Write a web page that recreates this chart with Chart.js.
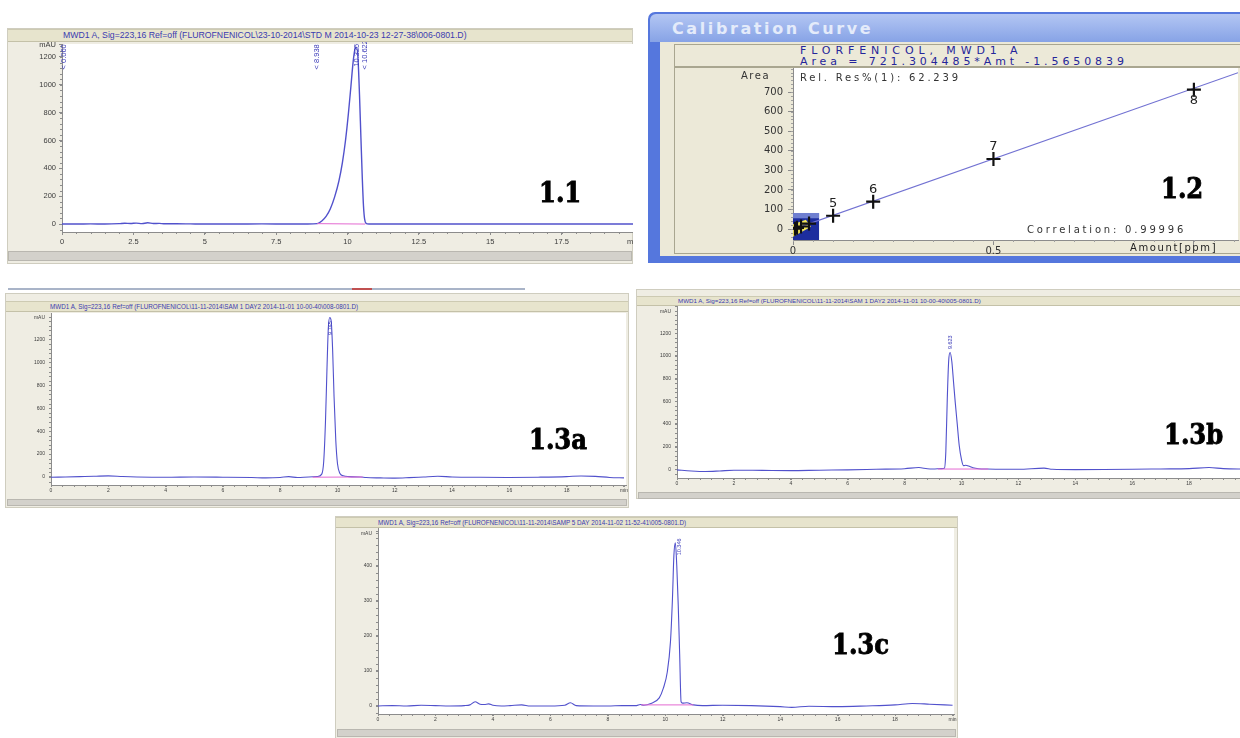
<!DOCTYPE html>
<html>
<head>
<meta charset="utf-8">
<script src="https://cdn.jsdelivr.net/npm/chart.js@4.4.1/dist/chart.umd.min.js"></script>
<style>
body { margin: 0; background: #fff; }
#page { position: relative; width: 1240px; height: 738px; overflow: hidden; font-family: "Liberation Sans", Arial, sans-serif; }
.panel { position: absolute; background: #efede3; border: 1px solid #cfcdbf; box-sizing: border-box; }
.strip { position: absolute; background: #e7e4cd; border-top: 1px solid #cdcab2; border-bottom: 1px solid #c4c1a8; box-sizing: border-box; color: #3b3bb0; white-space: nowrap; overflow: hidden; }
.scroll { position: absolute; background: #d3d1cb; border: 1px solid #b9b7b0; box-sizing: border-box; }
.fig { position: absolute; font-family: "DejaVu Serif Condensed", "DejaVu Serif", serif; font-weight: 900; color: #000; letter-spacing: 0; line-height: 1; font-size: 27px; -webkit-text-stroke: 0.8px #000; }
.wtxt { position: absolute; font-family: "DejaVu Sans", sans-serif; white-space: nowrap; line-height: 1; }
canvas { position: absolute; }
</style>
</head>
<body>
<div id="page">

  <!-- 1.1 -->
  <div class="panel" style="left:7px;top:28px;width:626px;height:236px;"></div>
  <div class="strip" style="left:8px;top:29px;width:624px;height:13px;font-size:8.7px;line-height:11px;padding-left:55px;">MWD1 A, Sig=223,16 Ref=off (FLUROFNENICOL\23-10-2014\STD M 2014-10-23 12-27-38\006-0801.D)</div>
  <canvas id="c11" width="626" height="208" style="left:7px;top:42px;"></canvas>
  <div class="scroll" style="left:8px;top:251px;width:624px;height:10px;"></div>
  <div class="fig" style="left:539px;top:179px;">1.1</div>

  <!-- 1.2 -->
  <div style="position:absolute;left:648px;top:12px;width:600px;height:251px;background:#5577dd;border-radius:7px 0 0 0;"></div>
  <div style="position:absolute;left:650px;top:14px;width:600px;height:28px;background:linear-gradient(#b3c6f3,#87a3e6);border-radius:6px 0 0 0;"></div>
  <div class="wtxt" style="left:672px;top:21px;font-size:16px;font-weight:bold;color:#e4ebfa;letter-spacing:2.6px;">Calibration Curve</div>
  <div style="position:absolute;left:660px;top:42px;width:580px;height:214px;background:#ece9d8;"></div>
  <div style="position:absolute;left:674px;top:44px;width:570px;height:23px;border:1px solid #a9a690;box-sizing:border-box;"></div>
  <div style="position:absolute;left:674px;top:67px;width:570px;height:187px;border:1px solid #a9a690;box-sizing:border-box;"></div>
  <div class="wtxt" style="left:800px;top:45px;font-size:11px;color:#25259a;letter-spacing:4.9px;">FLORFENICOL, MWD1 A</div>
  <div class="wtxt" style="left:800px;top:56px;font-size:11px;color:#25259a;letter-spacing:3.9px;">Area = 721.304485*Amt -1.5650839</div>
  <canvas id="c12" width="565" height="189" style="left:675px;top:68px;"></canvas>
  <div class="wtxt" style="left:741px;top:71px;font-size:10px;color:#333;letter-spacing:1.5px;">Area</div>
  <div class="wtxt" style="left:800px;top:73px;font-size:10px;color:#333;letter-spacing:2.8px;">Rel. Res%(1): 62.239</div>
  <div class="wtxt" style="left:1027px;top:225px;font-size:10px;color:#333;letter-spacing:2.8px;">Correlation: 0.99996</div>
  <div class="wtxt" style="left:1130px;top:243px;font-size:10px;color:#222;letter-spacing:1.6px;">Amount[ppm]</div>
  <div class="fig" style="left:1161px;top:175px;">1.2</div>

  <!-- 1.3a -->
  <div style="position:absolute;left:8px;top:288px;width:517px;height:2px;background:#a9b4c8;"></div>
  <div style="position:absolute;left:352px;top:288px;width:20px;height:2px;background:#c05050;"></div>
  <div class="panel" style="left:5px;top:293px;width:624px;height:215px;"></div>
  <div class="strip" style="left:6px;top:301px;width:622px;height:11px;font-size:6.3px;line-height:9px;padding-left:44px;">MWD1 A, Sig=223,16 Ref=off (FLUROFNENICOL\11-11-2014\SAM 1 DAY2 2014-11-01 10-00-40\008-0801.D)</div>
  <canvas id="c13a" width="624" height="188" style="left:5px;top:312px;"></canvas>
  <div class="scroll" style="left:7px;top:499px;width:620px;height:7px;"></div>
  <div class="fig" style="left:529px;top:426px;">1.3a</div>

  <!-- 1.3b -->
  <div class="panel" style="left:636px;top:289px;width:610px;height:210px;"></div>
  <div class="strip" style="left:637px;top:296px;width:608px;height:10px;font-size:6.2px;line-height:8px;padding-left:41px;">MWD1 A, Sig=223,16 Ref=off (FLUROFNENICOL\11-11-2014\SAM 1 DAY2 2014-11-01 10-00-40\005-0801.D)</div>
  <canvas id="c13b" width="612" height="186" style="left:636px;top:305px;"></canvas>
  <div class="scroll" style="left:638px;top:492px;width:608px;height:7px;"></div>
  <div class="fig" style="left:1164px;top:421px;">1.3b</div>

  <!-- 1.3c -->
  <div class="panel" style="left:335px;top:516px;width:623px;height:224px;"></div>
  <div class="strip" style="left:336px;top:517px;width:621px;height:11px;font-size:6.3px;line-height:9px;padding-left:42px;">MWD1 A, Sig=223,16 Ref=off (FLUROFNENICOL\11-11-2014\SAMP 5 DAY 2014-11-02 11-52-41\005-0801.D)</div>
  <canvas id="c13c" width="623" height="200" style="left:335px;top:527px;"></canvas>
  <div class="scroll" style="left:337px;top:729px;width:619px;height:8px;"></div>
  <div class="fig" style="left:832px;top:631px;">1.3c</div>
</div>

<script>
// ---- 1.1 standard chromatogram ----
const t11 = [0, 0.5, 1.0, 1.5, 2.0, 2.2, 2.4, 2.6, 2.8, 3.0, 3.2, 3.4, 3.6, 4.0, 4.5, 5.0, 6.0, 7.0, 8.0, 8.6, 8.94, 9.10, 9.25, 9.40, 9.55, 9.70, 9.82, 9.93, 10.03, 10.12, 10.20, 10.27, 10.32, 10.37, 10.42, 10.47, 10.52, 10.56, 10.60, 10.65, 10.75, 11, 12, 13, 14, 15, 16, 17, 18, 19, 20];
const mau11 = [0, 0, 1, 0, 3, 6, 4, 7, 3, 9, 4, 5, 2, 2, 1, 0, 0, 1, 0, 0, 3, 22, 55, 110, 195, 310, 440, 600, 790, 990, 1170, 1262, 1268, 1180, 930, 620, 320, 130, 35, 5, 0, 0, 0, 0, 0, 0, 0, 0, 0, 0, 0];
const base11T = [8.938, 10.622];
const base11Y = [3, 0];
const mark11T = [0.06, 8.938, 10.325, 10.622];
const mark11Y = [1110, 1110, 1130, 1110];
const mark11Text = ['< 0.060', '< 8.938', '10.325', '< 10.622'];
const x11Ticks = [0, 2.5, 5, 7.5, 10, 12.5, 15, 17.5, 20];
const x11Labels = ['0', '2.5', '5', '7.5', '10', '12.5', '15', '17.5', 'min'];
const y11Ticks = [0, 200, 400, 600, 800, 1000, 1200, 1286];
const y11Labels = ['0', '200', '400', '600', '800', '1000', '1200', 'mAU'];

// ---- 1.2 calibration curve ----
const calAmount = [0.005, 0.01, 0.02, 0.04, 0.1, 0.2, 0.5, 1.0];
const calArea = [2, 6, 13, 28, 68, 140, 358, 712];
const calLevel = ['1', '2', '3', '4', '5', '6', '7', '8'];
const fitAmount = [0, 1.11];
const fitArea = [-1.6, 799];
const calXTicks = [0, 0.5, 1.0];
const calXLabels = ['0', '0.5', ''];
const calYTicks = [0, 100, 200, 300, 400, 500, 600, 700];
const calYLabels = ['0', '100', '200', '300', '400', '500', '600', '700'];

// ---- 1.3a / 1.3b / 1.3c sample chromatograms ----
const t13a = [0, 0.5, 1.0, 1.5, 2.0, 2.5, 3.0, 4.0, 5.0, 6.0, 7.0, 7.5, 8.0, 8.3, 8.6, 9.0, 9.3, 9.45, 9.52, 9.58, 9.63, 9.68, 9.73, 9.78, 9.83, 9.88, 9.94, 10.00, 10.08, 10.2, 10.4, 10.8, 11.0, 11.5, 12.0, 12.5, 13.0, 13.5, 14.0, 15.0, 16.0, 17.0, 18.0, 18.5, 19.0, 19.5, 20.0];
const mau13a = [-3, 0, 3, 6, 10, 4, 0, -3, 0, -2, -5, -8, -4, 3, -5, 0, 4, 25, 140, 480, 920, 1300, 1392, 1360, 1110, 700, 320, 115, 32, 10, 3, 0, -5, -8, -10, -6, 0, 6, 0, -3, -4, -2, 3, 9, 5, -4, -8];
const base13aT = [9.13, 10.88];
const base13aY = [-2, 0];

const t13b = [0, 0.5, 1.0, 1.5, 2.0, 3.0, 4.0, 5.0, 6.0, 7.0, 8.0, 8.5, 8.8, 9.0, 9.3, 9.40, 9.45, 9.50, 9.55, 9.60, 9.66, 9.72, 9.78, 9.85, 9.92, 10.00, 10.07, 10.15, 10.25, 10.4, 10.6, 10.9, 11.5, 12.0, 12.9, 13.2, 14.0, 15.0, 16.0, 17.0, 18.0, 18.7, 19.2, 20.0];
const mau13b = [-5, -15, -20, -15, -8, -10, -12, -8, -5, 0, 5, 15, 5, 3, 6, 10, 160, 620, 960, 1030, 950, 770, 590, 400, 210, 85, 32, 36, 28, 14, 5, 2, 0, 0, 10, 0, -3, -2, 0, 3, 6, 15, 6, 2];
const base13bT = [9.17, 10.94];
const base13bY = [2, 2];

const t13c = [0, 0.5, 1.0, 1.5, 2.0, 2.5, 3.0, 3.2, 3.38, 3.55, 3.7, 3.85, 4.0, 4.3, 4.6, 5.0, 5.3, 6.0, 6.5, 6.7, 6.9, 7.5, 8.0, 8.5, 9.0, 9.13, 9.25, 9.5, 9.79, 9.93, 10.07, 10.18, 10.25, 10.30, 10.35, 10.40, 10.45, 10.50, 10.55, 10.60, 10.75, 10.98, 11.3, 12.0, 13.0, 14.0, 14.4, 15.0, 16.0, 17.0, 18.0, 18.6, 19.2, 20.0];
const mau13c = [0, 1, 0, 2, 1, 0, 1, 3, 12, 5, 4, 6, 2, 0, 1, 3, 0, 0, 2, 9, 1, 0, 0, 1, 1, 4, 2, 7, 23, 50, 97, 183, 307, 430, 466, 400, 290, 150, 12, 8, 9, 3, 1, 2, 1, -2, -4, -1, -2, 0, 3, 7, 5, 2];
const base13cT = [9.16, 10.98];
const base13cY = [3, 3];

const x13Ticks = [0, 2, 4, 6, 8, 10, 12, 14, 16, 18, 20];
const x13Labels = ['0', '2', '4', '6', '8', '10', '12', '14', '16', '18', 'min'];
const y13abTicks = [0, 200, 400, 600, 800, 1000, 1200, 1390];
const y13abLabels = ['0', '200', '400', '600', '800', '1000', '1200', 'mAU'];
const y13cTicks = [0, 100, 200, 300, 400, 491];
const y13cLabels = ['0', '100', '200', '300', '400', 'mAU'];

const mark13aT = [9.74], mark13aY = [1240], mark13aText = ['9.745'];
const mark13bT = [9.60], mark13bY = [1060], mark13bText = ['9.623'];
const mark13cT = [10.48], mark13cY = [430], mark13cText = ['10.346'];

const FONT = '"Liberation Sans", Arial, sans-serif';
const pts = (xs, ys) => xs.map((x, i) => ({ x: x, y: ys[i] }));

// white plot area, minor ticks, rotated peak labels, calibration level numbers
const panelPlugin = {
    id: 'panel',
    beforeDraw(chart) {
        const a = chart.chartArea, ctx = chart.ctx;
        ctx.save();
        ctx.fillStyle = '#ffffff';
        ctx.fillRect(a.left, a.top, a.right - a.left, a.bottom - a.top);
        ctx.restore();
    },
    beforeDatasetsDraw(chart, args, o) {
        if (!o.originBox) return;
        const xs = chart.scales.x, ys = chart.scales.y, ctx = chart.ctx;
        const X = v => xs.getPixelForValue(v), Y = v => ys.getPixelForValue(v);
        ctx.save();
        ctx.fillStyle = '#1d2d9e';
        ctx.fillRect(X(0), Y(82), X(0.065) - X(0), Y(ys.min) - Y(82));
        ctx.fillStyle = '#6f7fd0';
        ctx.fillRect(X(0), Y(82), X(0.065) - X(0), Y(55) - Y(82));
        ctx.fillStyle = '#f2e65a';
        ctx.beginPath();
        ctx.moveTo(X(0), Y(-40));
        ctx.lineTo(X(0), Y(25));
        ctx.lineTo(X(0.032), Y(48));
        ctx.lineTo(X(0.045), Y(12));
        ctx.closePath();
        ctx.fill();
        ctx.restore();
    },
    afterDraw(chart, args, o) {
        const xs = chart.scales.x, ys = chart.scales.y, a = chart.chartArea, ctx = chart.ctx;
        ctx.save();
        ctx.strokeStyle = o.tickColor || '#8c8c8c';
        ctx.lineWidth = 1;
        ctx.beginPath();
        if (o.minorX) {
            for (let k = Math.ceil(xs.min / o.minorX); k * o.minorX <= xs.max; k++) {
                const p = Math.round(xs.getPixelForValue(k * o.minorX)) + 0.5;
                ctx.moveTo(p, a.bottom); ctx.lineTo(p, a.bottom + 2);
            }
        }
        if (o.minorY) {
            for (let k = Math.ceil(ys.min / o.minorY); k * o.minorY <= ys.max; k++) {
                const p = Math.round(ys.getPixelForValue(k * o.minorY)) + 0.5;
                ctx.moveTo(a.left, p); ctx.lineTo(a.left - 2, p);
            }
        }
        ctx.stroke();
        if (o.marks) {
            const m = o.marks;
            ctx.fillStyle = o.markColor || '#3a3ab8';
            ctx.font = o.markFont;
            ctx.textBaseline = 'middle';
            ctx.textAlign = 'left';
            m.t.forEach((t, i) => {
                ctx.save();
                ctx.translate(xs.getPixelForValue(t), ys.getPixelForValue(m.y[i]));
                ctx.rotate(-Math.PI / 2);
                ctx.fillText(m.text[i], 0, 0);
                ctx.restore();
            });
        }
        if (o.levels) {
            const meta = chart.getDatasetMeta(o.levels.dataset);
            ctx.fillStyle = '#222';
            ctx.font = '13px "DejaVu Sans", sans-serif';
            ctx.textAlign = 'center';
            ctx.textBaseline = 'middle';
            meta.data.forEach((el, i) => {
                if (i < o.levels.from) return;
                const below = i === meta.data.length - 1;
                ctx.fillText(o.levels.text[i], el.x, el.y + (below ? 11 : -12));
            });
        }
        ctx.restore();
    }
};

function axis(c, isX) {
    const ticks = isX ? c.xTicks : c.yTicks;
    const labels = isX ? c.xLabels : c.yLabels;
    return {
        type: 'linear',
        min: isX ? c.xmin : c.ymin,
        max: isX ? c.xmax : c.ymax,
        afterBuildTicks: s => { s.ticks = ticks.map(v => ({ value: v })); },
        afterFit: s => {
            if (isX) { s.height = c.xh; s.paddingLeft = 0; s.paddingRight = 0; }
            else { s.width = c.yw; s.paddingTop = 0; s.paddingBottom = 0; }
        },
        ticks: {
            autoSkip: false, maxRotation: 0, minRotation: 0,
            padding: isX ? c.xpad : c.ypad,
            color: c.tickText || '#3c3c3c',
            font: { family: c.family || FONT, size: c.fs },
            callback: (v, i) => labels[i]
        },
        grid: { drawOnChartArea: false, tickLength: c.tl, color: '#8c8c8c' },
        border: { color: '#8c8c8c' }
    };
}

function chrom(id, c) {
    return new Chart(document.getElementById(id), {
        type: 'scatter',
        data: {
            datasets: [
                { data: pts(c.baseT, c.baseY), showLine: true, borderColor: '#e46ad2', borderWidth: 1, pointRadius: 0 },
                { data: pts(c.t, c.y), showLine: true, borderColor: '#5151cc', borderWidth: c.lw, pointRadius: 0, cubicInterpolationMode: 'monotone' }
            ]
        },
        options: {
            responsive: false,
            animation: false,
            events: [],
            layout: { padding: c.pad, autoPadding: false },
            plugins: {
                legend: { display: false },
                tooltip: { enabled: false },
                panel: { minorX: c.minorX, minorY: c.minorY, marks: c.marks, markFont: c.markFont }
            },
            scales: { x: axis(c, true), y: axis(c, false) }
        },
        plugins: [panelPlugin]
    });
}

chrom('c11', {
    t: t11, y: mau11, baseT: base11T, baseY: base11Y, lw: 1.4,
    xmin: 0, xmax: 20, ymin: -57, ymax: 1293,
    xTicks: x11Ticks, xLabels: x11Labels, yTicks: y11Ticks, yLabels: y11Labels,
    pad: { left: 0, top: 2, right: 0, bottom: 4 }, xh: 14, yw: 55,
    fs: 7.5, tl: 3, xpad: 2, ypad: 3, minorX: 0.5, minorY: 40,
    marks: { t: mark11T, y: mark11Y, text: mark11Text }, markFont: '7.5px ' + FONT
});

chrom('c13a', {
    t: t13a, y: mau13a, baseT: base13aT, baseY: base13aY, lw: 1.1,
    xmin: 0, xmax: 20.07, ymin: -70, ymax: 1431,
    xTicks: x13Ticks, xLabels: x13Labels, yTicks: y13abTicks, yLabels: y13abLabels,
    pad: { left: 0, top: 1, right: 3, bottom: 3 }, xh: 12, yw: 46,
    fs: 5, tl: 2, xpad: 1, ypad: 4, minorX: 0.4, minorY: 40,
    marks: { t: mark13aT, y: mark13aY, text: mark13aText }, markFont: '5.5px ' + FONT
});

chrom('c13b', {
    t: t13b, y: mau13b, baseT: base13bT, baseY: base13bY, lw: 1.1,
    xmin: 0, xmax: 20, ymin: -77, ymax: 1440,
    xTicks: x13Ticks, xLabels: x13Labels, yTicks: y13abTicks, yLabels: y13abLabels,
    pad: { left: 0, top: 1, right: 2, bottom: 2 }, xh: 11, yw: 41,
    fs: 5, tl: 2, xpad: 1, ypad: 4, minorX: 0.4, minorY: 40,
    marks: { t: mark13bT, y: mark13bY, text: mark13bText }, markFont: '5.5px ' + FONT
});

chrom('c13c', {
    t: t13c, y: mau13c, baseT: base13cT, baseY: base13cY, lw: 1.1,
    xmin: 0, xmax: 20.05, ymin: -23, ymax: 508,
    xTicks: x13Ticks, xLabels: x13Labels, yTicks: y13cTicks, yLabels: y13cLabels,
    pad: { left: 0, top: 1, right: 4, bottom: 2 }, xh: 11, yw: 43,
    fs: 5, tl: 2, xpad: 1, ypad: 4, minorX: 0.4, minorY: 20,
    marks: { t: mark13cT, y: mark13cY, text: mark13cText }, markFont: '5.5px ' + FONT
});

// calibration curve
const cal = {
    xmin: 0, xmax: 1.11, ymin: -56, ymax: 823,
    xTicks: calXTicks, xLabels: calXLabels, yTicks: calYTicks, yLabels: calYLabels,
    xh: 17, yw: 118, fs: 10, tl: 5, xpad: 0, ypad: 5,
    family: '"DejaVu Sans", sans-serif', tickText: '#333'
};
new Chart(document.getElementById('c12'), {
    type: 'scatter',
    data: {
        datasets: [
            { data: pts(calAmount, calArea), pointStyle: 'cross', pointRadius: 7, borderColor: '#111', borderWidth: 2.2 },
            { data: pts(fitAmount, fitArea), showLine: true, borderColor: '#7272d2', borderWidth: 1.2, pointRadius: 0 }
        ]
    },
    options: {
        responsive: false,
        animation: false,
        events: [],
        layout: { padding: { left: 0, top: 0, right: 2, bottom: 0 }, autoPadding: false },
        plugins: {
            legend: { display: false },
            tooltip: { enabled: false },
            panel: { minorX: 0.05, minorY: 20, tickColor: '#a0a0a0', originBox: true, levels: { dataset: 0, text: calLevel, from: 4 } }
        },
        scales: { x: axis(cal, true), y: axis(cal, false) }
    },
    plugins: [panelPlugin]
});
</script>
</body>
</html>
